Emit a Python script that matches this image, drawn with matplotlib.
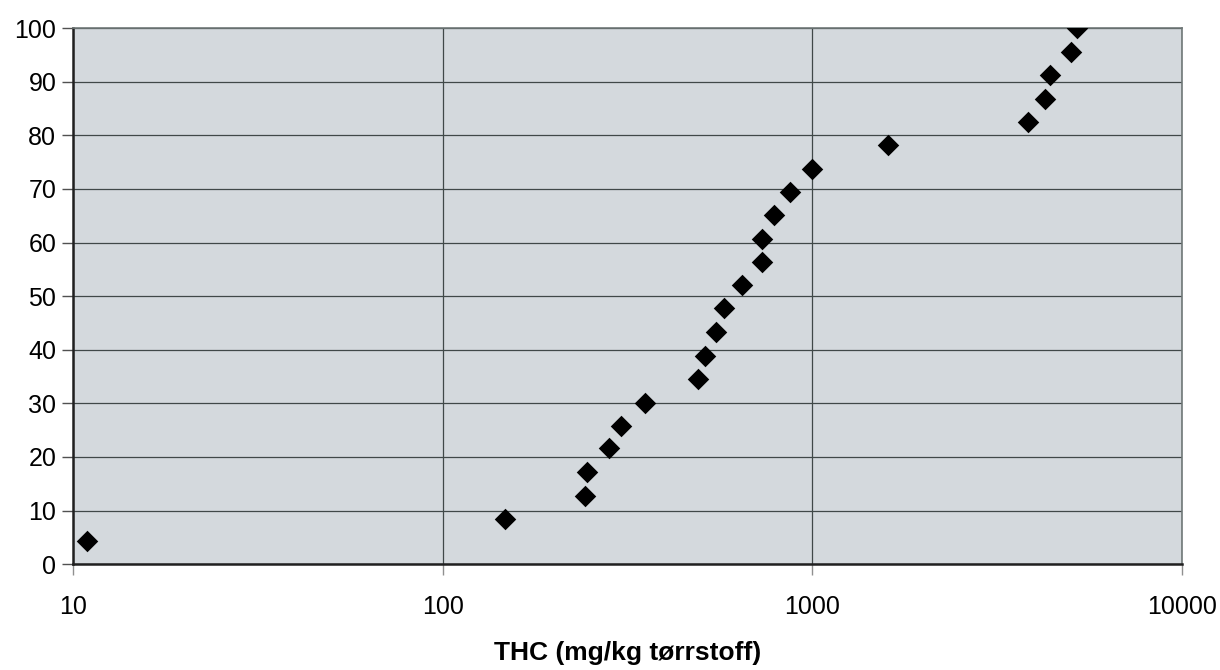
import numpy as np
import matplotlib.pyplot as plt
from matplotlib.ticker import FixedLocator, FixedFormatter, NullLocator

# THC concentration (mg/kg dry matter) and cumulative percentage
thc = [10.9, 147, 243, 245, 281, 303, 352, 490, 513, 550, 578, 643,
       732, 732, 785, 867, 1000, 1598, 3837, 4256, 4397, 5000, 5210]
pct = [4.3, 8.5, 12.8, 17.1, 21.6, 25.8, 30.1, 34.5, 38.9, 43.3, 47.7, 52.0,
       56.4, 60.7, 65.1, 69.5, 73.8, 78.2, 82.5, 86.8, 91.2, 95.6, 100.0]

x_ticks = [10, 100, 1000, 10000]
x_labels = ['10', '100', '1000', '10000']
y_ticks = list(range(0, 101, 10))

plt.rcParams['font.family'] = ['Liberation Sans', 'DejaVu Sans']

fig = plt.figure(figsize=(12.2, 6.7), dpi=100)
ax = fig.add_axes([0.0598, 0.158, 0.9092, 0.800])
ax.set_facecolor('#d4d9dd')

ax.scatter(thc, pct, marker='D', s=120, color='black', zorder=3, linewidths=0)

ax.set_xscale('log')
ax.set_xlim(10, 10000)
ax.set_ylim(0, 100)
ax.xaxis.set_major_locator(FixedLocator(x_ticks))
ax.xaxis.set_major_formatter(FixedFormatter(x_labels))
ax.xaxis.set_minor_locator(NullLocator())
ax.set_yticks(y_ticks)

ax.grid(True, color='#404848', linewidth=0.9)
ax.set_axisbelow(True)

for side in ['top', 'right']:
    ax.spines[side].set_color('#707878')
    ax.spines[side].set_linewidth(1.2)
for side in ['left', 'bottom']:
    ax.spines[side].set_color('#202020')
    ax.spines[side].set_linewidth(1.8)

ax.tick_params(axis='y', labelsize=18, length=8, width=1, color='#505050', pad=4)
ax.tick_params(axis='x', labelsize=18, length=8, width=1, color='#909090', pad=14)

ax.set_xlabel('THC (mg/kg tørrstoff)', fontsize=19, fontweight='bold', labelpad=16)

fig.savefig('out.png', dpi=100)
